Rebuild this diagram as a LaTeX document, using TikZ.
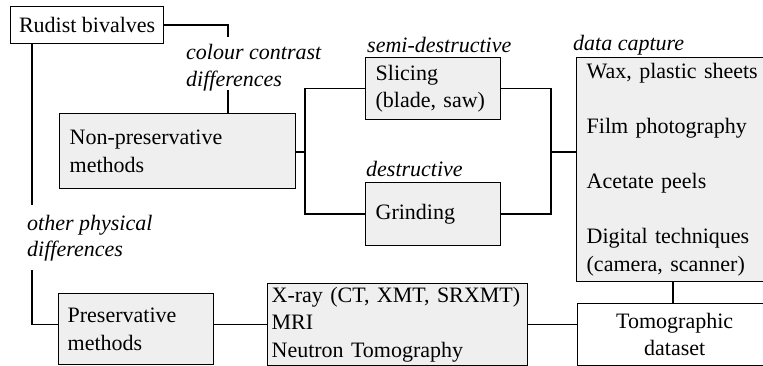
\documentclass[tikz,border=0pt]{standalone}
\usepackage{fontspec}
\setmainfont{Liberation Serif}
\definecolor{boxgray}{HTML}{EFEFEF}
\begin{document}
\begin{tikzpicture}[x=1pt,y=-1pt,
  every node/.style={font=\fontsize{22}{27.5}\selectfont},
  box/.style={draw, line width=1.3pt, fill=boxgray, anchor=north west, align=left, inner xsep=10pt, inner ysep=0pt},
  wbox/.style={box, fill=white},
  lab/.style={anchor=base west, align=left, inner sep=0pt, font=\fontsize{22}{27}\selectfont\itshape},
  conn/.style={line width=1.3pt}]
\useasboundingbox (0,0) rectangle (763,366);
\clip (0,0) rectangle (763,366);
% boxes
\node[wbox, minimum width=153pt, minimum height=37pt, inner xsep=8pt] (rud) at (10,6) {Rudist bivalves};
\node[box, minimum width=236pt, minimum height=75pt, text width=216pt] (np) at (59,113) {Non-preservative\\methods};
\node[box, minimum width=135pt, minimum height=62pt, text width=115pt] (sl) at (365,57) {Slicing\\(blade, saw)};
\node[box, minimum width=135pt, minimum height=63pt, text width=115pt] (gr) at (365,182) {Grinding};
\node[box, minimum width=195pt, minimum height=224pt, text width=175pt] (dc) at (576,57) {Wax, plastic sheets\\[27.5pt]Film photography\\[27.5pt]Acetate peels\\[27.5pt]Digital techniques\\(camera, scanner)};
\node[box, minimum width=155pt, minimum height=71pt, text width=137pt, inner xsep=9pt] (pm) at (58,293) {Preservative\\methods};
\node[box, minimum width=260pt, minimum height=82pt, text width=252pt, inner xsep=4pt] (xr) at (267,283) {X-ray (CT, XMT, SRXMT)\\MRI\\Neutron Tomography};
\node[wbox, minimum width=194pt, minimum height=62pt, text width=174pt, align=center] (tm) at (577,303) {Tomographic\\dataset};
% labels (base anchor = last line)
\node[lab] (cc) at (186,87) {colour contrast\\differences};
\node[lab] (sd) at (367,53) {semi-destructive};
\node[lab] (de) at (366,177) {destructive};
\node[lab] (dcl) at (573,51) {data capture};
\node[lab] (op) at (27,257) {other physical\\differences};
% connector points
\coordinate (c1) at (228,37);
\coordinate (c2) at (228,90);
\coordinate (t1) at (32,205);
\coordinate (t2) at (32,270);
\coordinate (b1) at (305,152);
\coordinate (b2) at (551,152);
\coordinate (v1) at (673,0);
% connectors
\draw[conn] (rud.east) -| (c1);
\draw[conn] (c2) -- (np.north -| c2);
\draw[conn] (rud.south -| t1) -- (t1);
\draw[conn] (t2) |- (pm.west |- xr.west);
\draw[conn] (np.east |- b1) -- (b1);
\draw[conn] (sl.west) -| (b1) |- (gr.west);
\draw[conn] (sl.east) -| (b2) |- (gr.east);
\draw[conn] (b2) -- (b2 -| dc.west);
\draw[conn] (xr.west -| pm.east) -- (xr.west);
\draw[conn] (xr.east) -- (xr.east -| tm.west);
\draw[line width=2.6pt] (dc.south -| v1) -- (tm.north -| v1);
\end{tikzpicture}
\end{document}
